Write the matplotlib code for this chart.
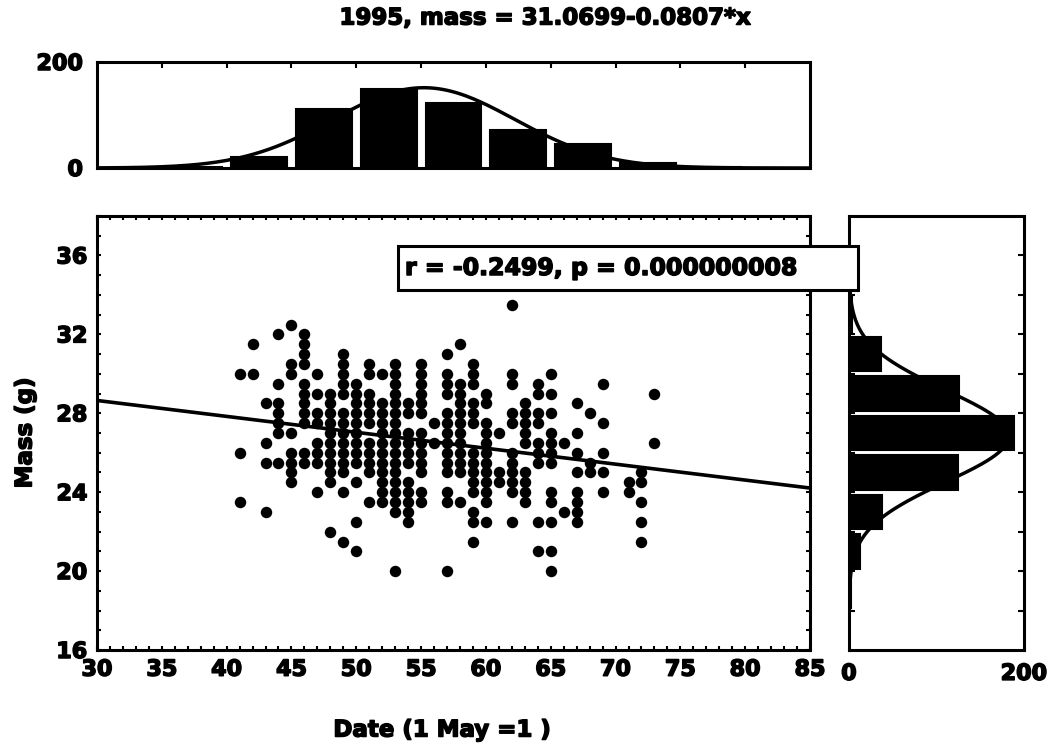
import matplotlib

matplotlib.use("Agg")
import matplotlib.pyplot as plt
import matplotlib.patheffects as pe
import numpy as np
from matplotlib.patches import Rectangle
from matplotlib.ticker import MultipleLocator

W, H = 1055, 749

plt.rcParams.update(
    {
        "font.family": "DejaVu Sans",
        "font.weight": "bold",
        "font.size": 16,
        "axes.linewidth": 2.2,
        "xtick.major.width": 1.5,
        "ytick.major.width": 1.5,
        "xtick.minor.width": 1.5,
        "ytick.minor.width": 1.5,
        "xtick.major.size": 3,
        "ytick.major.size": 3,
        "xtick.minor.size": 3,
        "ytick.minor.size": 3,
        "xtick.direction": "in",
        "ytick.direction": "in",
    }
)

# scatter: one list of (visible) masses per day
days = [41, 42, 43, 44, 45, 46, 47, 48, 49, 50, 51, 52, 53, 54, 55, 56, 57,
        58, 59, 60, 61, 62, 63, 64, 65, 66, 67, 68, 69, 71, 72, 73]
masses = [
    [30, 26, 23.5],
    [31.5, 30],
    [28.5, 26.5, 25.5, 23],
    [32, 29.5, 28.5, 28, 27.5, 27, 25.5],
    [32.5, 30.5, 30, 27, 26, 25.5, 25, 24.5],
    [32, 31.5, 31, 30.5, 29.5, 29, 28.5, 28, 27.5, 26, 25.5],
    [30, 29, 28, 27.5, 26.5, 26, 25.5, 24],
    [29, 28.5, 28, 27.5, 27, 26.5, 26, 25.5, 25, 24.5, 22],
    [31, 30.5, 30, 29.5, 29, 28, 27.5, 27, 26.5, 26, 25.5, 25, 24, 21.5],
    [29.5, 29, 28.5, 28, 27.5, 27, 26.5, 26, 25.5, 24.5, 22.5, 21],
    [30.5, 30, 29, 28.5, 28, 27.5, 26.5, 26, 25.5, 25, 23.5],
    [30, 28.5, 28, 27.5, 27, 26.5, 26, 25.5, 25, 24.5, 24, 23.5],
    [30.5, 30, 29.5, 29, 28.5, 28, 27.5, 27, 26.5, 26, 25.5, 25, 24.5, 24, 23.5, 23, 20],
    [28.5, 28, 27, 26.5, 26, 25.5, 24.5, 24, 23.5, 23, 22.5],
    [30.5, 30, 29.5, 29, 28.5, 28, 27, 26.5, 26, 25.5, 25, 24, 23.5],
    [27.5, 26.5],
    [31, 30, 29.5, 29, 28, 27.5, 27, 26.5, 26, 25.5, 25, 24, 23.5, 20],
    [31.5, 29.5, 29, 28.5, 28, 27.5, 27, 26.5, 26, 25.5, 25, 23.5],
    [30.5, 30, 29.5, 28.5, 28, 27.5, 26, 25.5, 25, 24.5, 24, 23, 22.5, 21.5],
    [29, 28.5, 27.5, 27, 26.5, 26, 25.5, 25, 24.5, 24, 23.5, 22.5],
    [27, 25, 24.5],
    [33.5, 30, 29.5, 28, 27.5, 26, 25.5, 25, 24.5, 24, 22.5],
    [28.5, 28, 27.5, 27, 26.5, 25, 24.5, 24, 23.5],
    [29.5, 29, 28, 27.5, 26.5, 26, 25.5, 22.5, 21],
    [30, 29, 28, 27, 26.5, 26, 25.5, 24, 23.5, 22.5, 21, 20],
    [26.5, 23],
    [28.5, 27, 26, 25, 24, 23.5, 23, 22.5],
    [28, 25.5, 25],
    [29.5, 27.5, 26, 25, 24],
    [24.5, 24],
    [25, 24.5, 23.5, 22.5, 21.5],
    [29, 26.5],
]

# regression line
intercept = 31.0699
slope = -0.0807

# date histogram (bins of 5 days)
date_bin_centers = [37.5, 42.5, 47.5, 52.5, 57.5, 62.5, 67.5, 72.5, 77.5]
date_counts = [1, 21, 111, 150, 122, 71, 45, 10, 1]

# mass histogram (bins of 2 g)
mass_bin_centers = [19, 21, 23, 25, 27, 29, 31, 33]
mass_counts = [2, 13, 38, 125, 189, 126, 36, 3]

HEAVY = [pe.withStroke(linewidth=1.1, foreground="black")]


def px_rect(left, top, right, bottom):
    return [left / W, 1 - bottom / H, (right - left) / W, (bottom - top) / H]


def normal_curve(centers, counts, width, grid):
    c = np.asarray(centers, float)
    n = np.asarray(counts, float)
    mu = (c * n).sum() / n.sum()
    sd = np.sqrt(((c - mu) ** 2 * n).sum() / n.sum())
    return n.sum() * width * np.exp(-0.5 * ((grid - mu) / sd) ** 2) / (sd * np.sqrt(2 * np.pi))


def heavy_ticklabels(axis):
    for label in axis.get_xticklabels() + axis.get_yticklabels():
        label.set_path_effects(HEAVY)


fig = plt.figure(figsize=(W / 100, H / 100), dpi=100)

ax = fig.add_axes(px_rect(97, 216, 810, 650))
ax_top = fig.add_axes(px_rect(97, 62, 810, 168))
ax_right = fig.add_axes(px_rect(849, 216, 1024, 650))

# main scatter
xs = np.concatenate([[d] * len(m) for d, m in zip(days, masses)])
ys = np.concatenate(masses)
ax.scatter(xs, ys, s=68, color="black", linewidths=0, zorder=3)
xline = np.array([30, 85])
ax.plot(xline, intercept + slope * xline, color="black", lw=2.6, zorder=2)
ax.set_xlim(30, 85)
ax.set_ylim(16, 38)
ax.xaxis.set_major_locator(MultipleLocator(5))
ax.xaxis.set_minor_locator(MultipleLocator(1))
ax.yaxis.set_minor_locator(MultipleLocator(1))
ax.set_yticks(np.arange(16, 37, 4))
ax.tick_params(which="both", top=True, right=True, pad=7)
heavy_ticklabels(ax)

# top histogram
ax_top.bar(date_bin_centers, date_counts, width=4.3, color="black", edgecolor="black", lw=1.5)
grid = np.linspace(30, 85, 300)
ax_top.plot(grid, normal_curve(date_bin_centers, date_counts, 5, grid), color="black", lw=2.5)
ax_top.set_xlim(30, 85)
ax_top.set_ylim(0, 200)
ax_top.set_xticks(np.arange(35, 85, 5))
ax_top.tick_params(axis="x", bottom=False, top=True, labelbottom=False, length=4)
ax_top.set_yticks([0, 200])
ax_top.tick_params(axis="y", length=0, pad=10)
heavy_ticklabels(ax_top)

# right histogram
ax_right.barh(mass_bin_centers, mass_counts, height=1.75, color="black", edgecolor="black", lw=1.5)
grid = np.linspace(16, 38, 300)
ax_right.plot(normal_curve(mass_bin_centers, mass_counts, 2, grid), grid, color="black", lw=2.5)
ax_right.set_ylim(16, 38)
ax_right.set_xlim(0, 200)
ax_right.set_xticks([0, 200])
ax_right.set_yticks(np.arange(18, 38, 2))
ax_right.tick_params(axis="y", left=True, right=True, labelleft=False, length=4)
ax_right.tick_params(axis="x", length=0, pad=10)
heavy_ticklabels(ax_right)

fig.text(545 / W, 1 - 18 / H, "1995, mass = 31.0699-0.0807*x", ha="center", va="center",
         fontsize=16.5, path_effects=HEAVY)
fig.text(25 / W, 1 - 433 / H, "Mass (g)", rotation=90, ha="center", va="center",
         fontsize=16.5, path_effects=HEAVY)
fig.text(442 / W, 1 - 730 / H, "Date (1 May =1 )", ha="center", va="center",
         fontsize=16.5, path_effects=HEAVY)

box = Rectangle((398 / W, 1 - 290 / H), 460 / W, 44 / H, transform=fig.transFigure,
                facecolor="white", edgecolor="black", lw=2.2, zorder=5)
fig.patches.append(box)
fig.text(405 / W, 1 - 268 / H, "r = -0.2499, p = 0.000000008", ha="left", va="center",
         fontsize=17, zorder=6, path_effects=HEAVY)

fig.savefig("out.png", dpi=100)
